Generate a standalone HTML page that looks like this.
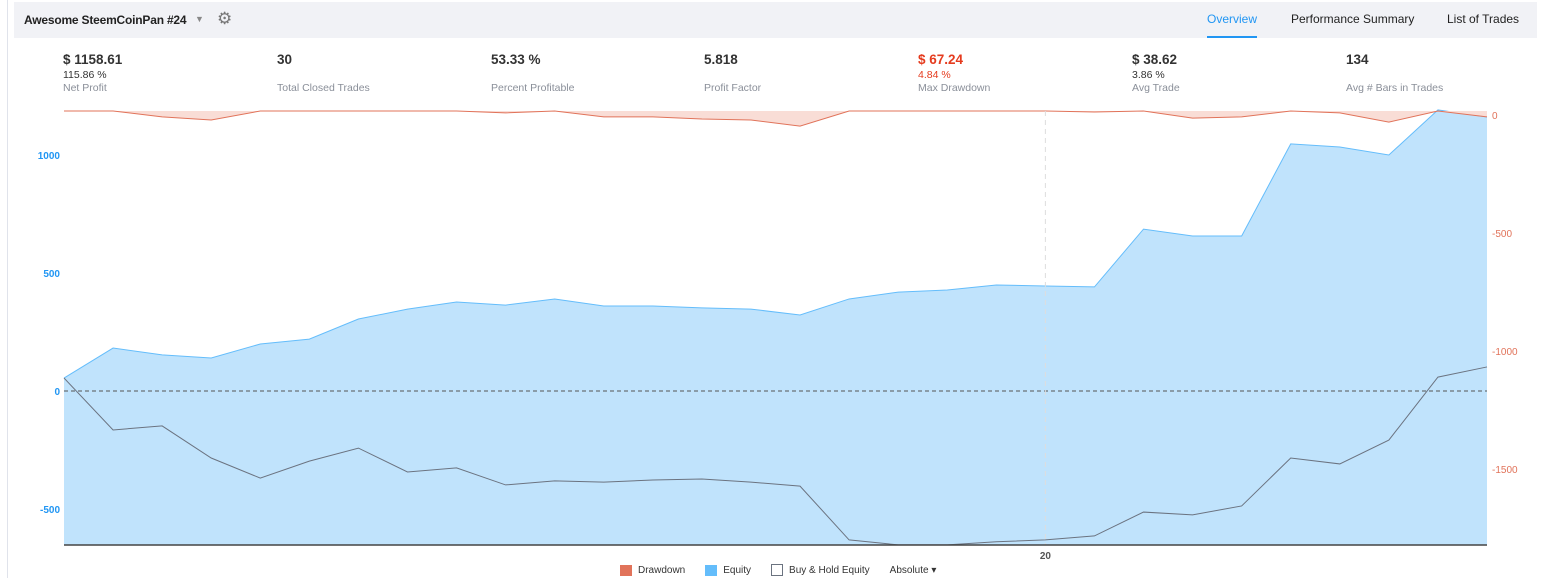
<!DOCTYPE html>
<html><head><meta charset="utf-8"><style>
body{margin:0;width:1542px;height:578px;background:#fff;font-family:"Liberation Sans",sans-serif;position:relative;overflow:hidden}
.hdr{position:absolute;left:14px;top:2px;width:1523px;height:36px;background:#f1f2f6}
.t{position:absolute;font-size:12px;color:#222}
.stat{position:absolute;top:52px}
.stat b{display:block;font-size:13.5px;color:#333;height:17px;font-weight:bold}
.stat .s{font-size:10.5px;color:#333;height:13px;line-height:13px}
.stat .l{font-size:10.5px;color:#8a8f99;line-height:13px}
.ax{font-size:10px;font-weight:bold}
</style></head><body>
<div style="position:absolute;left:7px;top:0;width:1px;height:578px;background:#e0e3eb"></div>
<div class="hdr"></div>
<div class="t" style="left:24px;top:13px;font-weight:bold;font-size:12px;letter-spacing:-0.2px">Awesome SteemCoinPan #24</div>
<div class="t" style="left:195px;top:14px;color:#888;font-size:9px">▼</div>
<div class="t" style="left:217px;top:9px;font-size:17px;color:#777">⚙</div>
<div class="t" style="left:1207px;top:12px;color:#2196f3">Overview</div>
<div style="position:absolute;left:1207px;top:36px;width:50px;height:2px;background:#2196f3"></div>
<div class="t" style="left:1291px;top:12px">Performance Summary</div>
<div class="t" style="left:1447px;top:12px">List of Trades</div>

<div class="stat" style="left:63px"><b>$ 1158.61</b><div class="s">115.86 %</div><div class="l">Net Profit</div></div>
<div class="stat" style="left:277px"><b>30</b><div class="s"></div><div class="l">Total Closed Trades</div></div>
<div class="stat" style="left:491px"><b>53.33 %</b><div class="s"></div><div class="l">Percent Profitable</div></div>
<div class="stat" style="left:704px"><b>5.818</b><div class="s"></div><div class="l">Profit Factor</div></div>
<div class="stat" style="left:918px"><b style="color:#e53b1e">$ 67.24</b><div class="s" style="color:#e53b1e">4.84 %</div><div class="l">Max Drawdown</div></div>
<div class="stat" style="left:1132px"><b>$ 38.62</b><div class="s">3.86 %</div><div class="l">Avg Trade</div></div>
<div class="stat" style="left:1346px"><b>134</b><div class="s"></div><div class="l">Avg # Bars in Trades</div></div>

<svg id="chart" width="1542" height="578" style="position:absolute;left:0;top:0"></svg>

<div style="position:absolute;top:564px;left:620px;font-size:10px;color:#333;display:flex;align-items:center">
<span style="display:flex;align-items:center"><i style="width:12px;height:11px;background:#e1735a;display:inline-block;margin-right:6px"></i>Drawdown</span>
<span style="display:flex;align-items:center;margin-left:20px"><i style="width:12px;height:11px;background:#64bdfb;display:inline-block;margin-right:6px"></i>Equity</span>
<span style="display:flex;align-items:center;margin-left:20px"><i style="width:10px;height:10px;border:1px solid #6b7380;display:inline-block;margin-right:6px"></i>Buy &amp; Hold Equity</span>
<span style="margin-left:20px">Absolute ▾</span>
</div>
<script>
const equity=[55,182,153,140,199,220,305,347,377,364,390,360,360,352,347,322,390,419,428,449,445,441,686,657,657,1047,1034,1000,1191,1161];
const buyHold=[55,-165,-148,-284,-369,-297,-242,-343,-326,-398,-381,-386,-377,-373,-386,-403,-631,-652,-652,-639,-631,-614,-513,-525,-487,-284,-309,-208,59,102];
const drawdown=[0,0,-25,-38,0,0,0,0,0,-8,0,-25,-25,-34,-38,-64,0,0,0,0,0,-4,0,-30,-25,0,-8,-47,0,-25];
const leftTicks=[-500,0,500,1000];
const rightTicks=[0,-500,-1000,-1500];
const xTicks=[20];
const svg=document.getElementById('chart');
const NS='http://www.w3.org/2000/svg';
const x0=64,x1=1487,bottom=545;
const xs=i=>x0+i*(x1-x0)/(equity.length-1);
const yL=v=>391-v*0.236;
const yR=v=>111-v*0.236;
function mk(t,a){const e=document.createElementNS(NS,t);for(const k in a)e.setAttribute(k,a[k]);svg.appendChild(e);return e;}
let p=equity.map((v,i)=>xs(i)+','+yL(v)).join(' ');
let e=mk('polygon',{points:x0+','+bottom+' '+p+' '+x1+','+bottom,fill:'#c0e3fc'});


e=mk('polyline',{points:p,fill:'none',stroke:'#64bdfb','stroke-width':1});


let d=drawdown.map((v,i)=>xs(i)+','+yR(v)).join(' ');
e=mk('polygon',{points:x0+','+yR(0)+' '+d+' '+x1+','+yR(0),fill:'#f9ddd6'});


e=mk('polyline',{points:d,fill:'none',stroke:'#e1735a','stroke-width':1});


e=mk('line',{x1:x0,x2:x1,y1:yL(0),y2:yL(0),stroke:'#555','stroke-dasharray':'4,3'});


let b=buyHold.map((v,i)=>xs(i)+','+yL(v)).join(' ');
e=mk('polyline',{points:b,fill:'none',stroke:'#6b7380','stroke-width':1});


xTicks.forEach(t=>{
 e=mk('line',{x1:xs(t),x2:xs(t),y1:111,y2:bottom,stroke:'#ddd','stroke-dasharray':'5,4'});
 
 
 e=mk('text',{x:xs(t),y:559,'text-anchor':'middle','font-size':10,fill:'#555','font-weight':'bold'});e.textContent=t;
 
 
});
e=mk('line',{x1:x0,x2:x1,y1:bottom,y2:bottom,stroke:'#444','stroke-width':1.5});


leftTicks.forEach(t=>{
 e=mk('text',{x:60,y:yL(t)+4,'text-anchor':'end','font-size':10,fill:'#2196f3',class:'ax'});e.textContent=t;
 
 
});
rightTicks.forEach(t=>{
 e=mk('text',{x:1492,y:yR(t)+8,'font-size':10,fill:'#e1735a'});e.textContent=t;
 
 
});
</script>
</body></html>
